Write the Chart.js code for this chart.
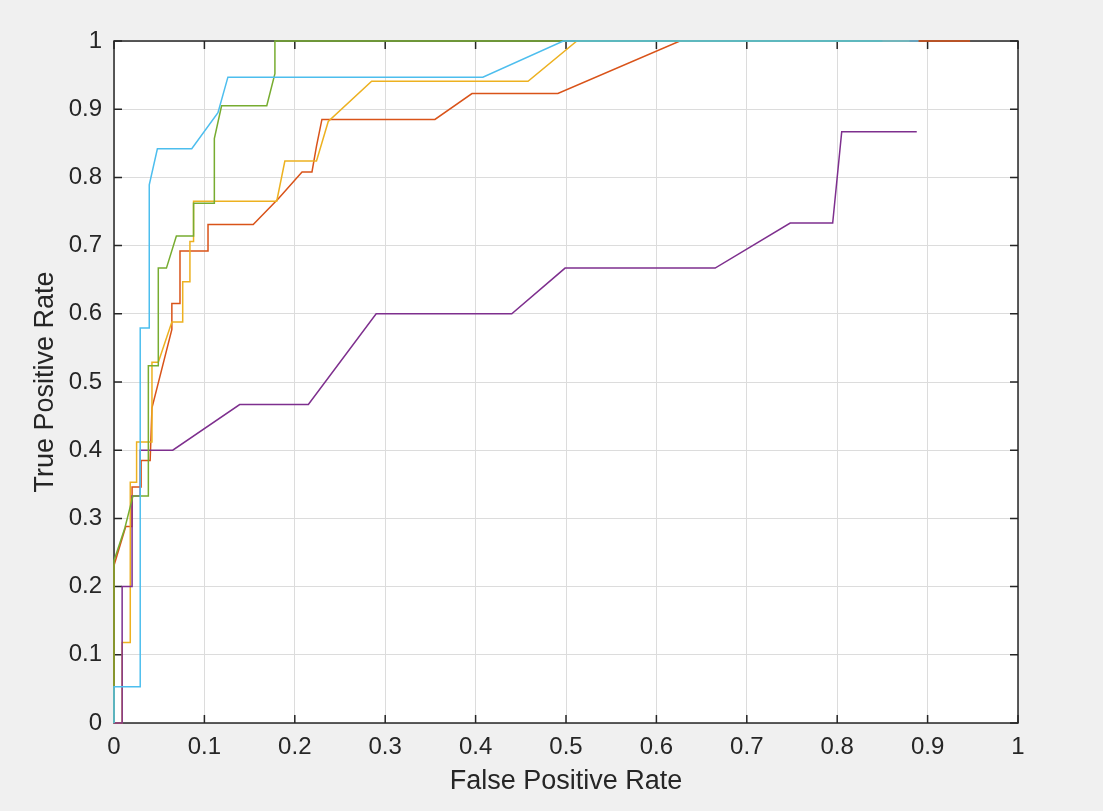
<!DOCTYPE html>
<html>
<head>
<meta charset="utf-8">
<title>ROC curves</title>
<script src="https://cdn.jsdelivr.net/npm/chart.js@4/dist/chart.umd.min.js"></script>
<style>
  html, body { margin: 0; padding: 0; background: #f0f0f0; }
  #wrap { width: 1103px; height: 811px; }
</style>
</head>
<body>
<div id="wrap"><canvas id="roc" width="1103" height="811"></canvas></div>
<script>
// Axis tick labels
const xTickLabels = ['0', '0.1', '0.2', '0.3', '0.4', '0.5', '0.6', '0.7', '0.8', '0.9', '1'];
const yTickLabels = ['0', '0.1', '0.2', '0.3', '0.4', '0.5', '0.6', '0.7', '0.8', '0.9', '1'];

// ROC curve 1 (orange)
const orangeFpr = [0, 0, 0.013, 0.02, 0.02, 0.03, 0.03, 0.04, 0.042, 0.064, 0.064, 0.073, 0.073, 0.104, 0.104, 0.154, 0.182, 0.208, 0.219, 0.224, 0.23, 0.355, 0.396, 0.491, 0.626, 0.947];
const orangeTpr = [0, 0.231, 0.288, 0.288, 0.346, 0.346, 0.385, 0.385, 0.462, 0.577, 0.615, 0.615, 0.692, 0.692, 0.731, 0.731, 0.769, 0.808, 0.808, 0.846, 0.885, 0.885, 0.923, 0.923, 1, 1];

// ROC curve 2 (yellow)
const yellowFpr = [0, 0.009, 0.009, 0.018, 0.018, 0.025, 0.025, 0.042, 0.042, 0.049, 0.064, 0.076, 0.076, 0.084, 0.084, 0.088, 0.088, 0.18, 0.189, 0.224, 0.237, 0.285, 0.458, 0.512, 0.88];
const yellowTpr = [0, 0, 0.118, 0.118, 0.353, 0.353, 0.412, 0.412, 0.529, 0.529, 0.588, 0.588, 0.647, 0.647, 0.706, 0.706, 0.765, 0.765, 0.824, 0.824, 0.882, 0.941, 0.941, 1, 1];

// ROC curve 3 (purple)
const purpleFpr = [0, 0.009, 0.009, 0.02, 0.02, 0.029, 0.029, 0.065, 0.139, 0.215, 0.29, 0.44, 0.499, 0.665, 0.748, 0.795, 0.805, 0.888];
const purpleTpr = [0, 0, 0.2, 0.2, 0.333, 0.333, 0.4, 0.4, 0.467, 0.467, 0.6, 0.6, 0.667, 0.667, 0.733, 0.733, 0.867, 0.867];

// ROC curve 4 (green)
const greenFpr = [0, 0, 0.012, 0.021, 0.038, 0.038, 0.049, 0.049, 0.058, 0.069, 0.088, 0.088, 0.111, 0.111, 0.119, 0.169, 0.178, 0.178, 0.85];
const greenTpr = [0, 0.238, 0.286, 0.333, 0.333, 0.524, 0.524, 0.667, 0.667, 0.714, 0.714, 0.762, 0.762, 0.857, 0.905, 0.905, 0.952, 1, 1];

// ROC curve 5 (light blue)
const cyanFpr = [0, 0, 0.029, 0.029, 0.039, 0.039, 0.048, 0.086, 0.115, 0.126, 0.408, 0.497, 0.89];
const cyanTpr = [0, 0.053, 0.053, 0.579, 0.579, 0.789, 0.842, 0.842, 0.895, 0.947, 0.947, 1, 1];

const seriesList = [
  { fpr: orangeFpr, tpr: orangeTpr, color: '#D95319' },
  { fpr: yellowFpr, tpr: yellowTpr, color: '#EDB120' },
  { fpr: purpleFpr, tpr: purpleTpr, color: '#7E2F8E' },
  { fpr: greenFpr,  tpr: greenTpr,  color: '#77AC30' },
  { fpr: cyanFpr,   tpr: cyanTpr,   color: '#4DBEEE' }
];

const datasets = seriesList.map((s, i) => ({
  data: s.fpr.map((x, k) => ({ x: x, y: s.tpr[k] })),
  borderColor: s.color,
  backgroundColor: s.color,
  borderWidth: 1.5,
  pointRadius: 0,
  tension: 0,
  fill: false,
  clip: 3,
  // later series are painted on top
  order: seriesList.length - i
}));

const textColor = '#262626';
const fontFamily = '"Liberation Sans", Arial, Helvetica, sans-serif';
const axisFont = { family: fontFamily, size: 24 };
const titleFont = { family: fontFamily, size: 27 };

// Figure background, white axes area, box outline with inward ticks
const axesBox = {
  id: 'axesBox',
  beforeDraw(chart) {
    const { ctx, chartArea: a } = chart;
    ctx.save();
    ctx.fillStyle = '#f0f0f0';
    ctx.fillRect(0, 0, chart.width, chart.height);
    ctx.fillStyle = '#ffffff';
    ctx.fillRect(a.left, a.top, a.right - a.left, a.bottom - a.top);
    ctx.restore();
  },
  beforeDatasetsDraw(chart) {
    const { ctx, chartArea: a, scales } = chart;
    const len = 8;
    ctx.save();
    ctx.strokeStyle = textColor;
    ctx.lineWidth = 1.5;
    ctx.beginPath();
    scales.x.ticks.forEach(t => {
      const px = scales.x.getPixelForValue(t.value);
      ctx.moveTo(px, a.bottom); ctx.lineTo(px, a.bottom - len);
      ctx.moveTo(px, a.top);    ctx.lineTo(px, a.top + len);
    });
    scales.y.ticks.forEach(t => {
      const py = scales.y.getPixelForValue(t.value);
      ctx.moveTo(a.left, py);  ctx.lineTo(a.left + len, py);
      ctx.moveTo(a.right, py); ctx.lineTo(a.right - len, py);
    });
    ctx.stroke();
    ctx.strokeRect(a.left, a.top, a.right - a.left, a.bottom - a.top);
    ctx.restore();
  }
};

new Chart(document.getElementById('roc'), {
  type: 'line',
  data: { datasets },
  plugins: [axesBox],
  options: {
    responsive: false,
    animation: false,
    layout: { padding: { left: 0, top: 41, right: 85, bottom: 0 } },
    plugins: { legend: { display: false }, tooltip: { enabled: false } },
    scales: {
      x: {
        type: 'linear',
        min: 0, max: 1,
        afterFit(scale) { scale.height = 88; },
        afterBuildTicks(scale) {
          scale.ticks = xTickLabels.map((_, i) => ({ value: i / 10 }));
        },
        ticks: {
          padding: 10,
          color: textColor,
          font: axisFont,
          maxRotation: 0,
          autoSkip: false,
          callback: (v, i) => xTickLabels[i]
        },
        grid: { color: '#dcdcdc', lineWidth: 1, drawTicks: false },
        border: { display: false },
        title: {
          display: true,
          text: 'False Positive Rate',
          color: textColor,
          font: titleFont,
          padding: { top: 0, bottom: 13 }
        }
      },
      y: {
        type: 'linear',
        min: 0, max: 1,
        afterFit(scale) { scale.width = 114; },
        afterBuildTicks(scale) {
          scale.ticks = yTickLabels.map((_, i) => ({ value: i / 10 }));
        },
        ticks: {
          padding: 12,
          color: textColor,
          font: axisFont,
          autoSkip: false,
          callback: (v, i) => yTickLabels[i]
        },
        grid: { color: '#dcdcdc', lineWidth: 1, drawTicks: false },
        border: { display: false },
        title: {
          display: true,
          text: 'True Positive Rate',
          color: textColor,
          font: titleFont,
          padding: { top: 29, bottom: 0 }
        }
      }
    }
  }
});
</script>
</body>
</html>
